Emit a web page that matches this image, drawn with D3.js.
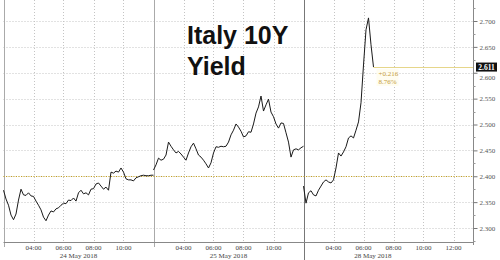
<!DOCTYPE html>
<html>
<head>
<meta charset="utf-8">
<script src="https://cdn.jsdelivr.net/npm/d3@7"></script>
<style>
  body { margin: 0; background: #fff; }
  svg { display: block; }
</style>
</head>
<body>
<svg id="chart" width="500" height="260"></svg>
<script>
// yield readings every 10 minutes from 02:00 of each session
const may24 = [2.373, 2.356, 2.344, 2.325, 2.316, 2.327, 2.354, 2.375, 2.364, 2.363,
  2.368, 2.362, 2.361, 2.352, 2.344, 2.335, 2.321, 2.314, 2.325, 2.333,
  2.331, 2.337, 2.339, 2.344, 2.348, 2.347, 2.354, 2.353, 2.358, 2.352,
  2.368, 2.373, 2.366, 2.368, 2.364, 2.375, 2.376, 2.385, 2.387, 2.381,
  2.375, 2.379, 2.373, 2.408, 2.406, 2.410, 2.408, 2.416, 2.408, 2.395,
  2.393, 2.393, 2.391, 2.397, 2.399, 2.401, 2.402, 2.401, 2.401, 2.402, 2.402];
const may25 = [2.412, 2.422, 2.435, 2.431, 2.433, 2.441, 2.466, 2.458, 2.451, 2.445,
  2.448, 2.443, 2.437, 2.431, 2.445, 2.457, 2.464, 2.453, 2.441, 2.437,
  2.431, 2.424, 2.416, 2.426, 2.445, 2.457, 2.456, 2.458, 2.457, 2.458,
  2.466, 2.480, 2.489, 2.501, 2.495, 2.487, 2.476, 2.478, 2.486, 2.485,
  2.501, 2.522, 2.534, 2.555, 2.526, 2.538, 2.549, 2.524, 2.515, 2.501,
  2.493, 2.503, 2.502, 2.484, 2.466, 2.437, 2.451, 2.453, 2.451, 2.455, 2.458];
const may28 = [2.381, 2.348, 2.368, 2.372, 2.364, 2.362, 2.373, 2.381, 2.389, 2.393,
  2.389, 2.387, 2.393, 2.416, 2.445, 2.439, 2.447, 2.457, 2.474, 2.478,
  2.474, 2.489, 2.505, 2.542, 2.615, 2.683, 2.706, 2.654, 2.611];

const sessionDates = ['24 May 2018', '25 May 2018', '28 May 2018'];
const sessionTicks = [
  ['04:00', '06:00', '08:00', '10:00'],
  ['04:00', '06:00', '08:00', '10:00'],
  ['04:00', '06:00', '08:00', '10:00', '12:00']
];
const yTicks = [2.3, 2.35, 2.4, 2.45, 2.5, 2.55, 2.6, 2.65, 2.7];
const refLevel = 2.400;
const lastValue = 2.611;
const changeText = ['+0.216', '8.76%'];
const titleLines = ['Italy 10Y', 'Yield'];

const svg = d3.select('#chart');
const left = 3.5, right = 473, bottom = 242;
const sessionLen = 10; // hours shown per session (02:00 - 12:00)

// compressed time axis: hours since 24 May 02:00 with gaps removed
const x = d3.scaleLinear().domain([0, 31.3]).range([left, right]);
const y = d3.scaleLinear().domain([2.3, 2.7]).range([228, 21]);

const series = [may24, may25, may28].map((vals, s) =>
  vals.map((v, i) => ({ t: s * sessionLen + i / 6, v })));

const hourOf = (lbl) => +lbl.slice(0, 2) - 2;

// horizontal grid
svg.append('g')
  .selectAll('line')
  .data(yTicks)
  .join('line')
  .attr('x1', left).attr('x2', right)
  .attr('y1', (d) => Math.round(y(d)) + 0.5)
  .attr('y2', (d) => Math.round(y(d)) + 0.5)
  .attr('stroke', '#c4c4c4')
  .attr('stroke-dasharray', '1,2');

// vertical grid at tick hours
const vTicks = sessionTicks.flatMap((ticks, s) =>
  ticks.map((lbl) => ({ t: s * sessionLen + hourOf(lbl), lbl })));
svg.append('g')
  .selectAll('line')
  .data(vTicks)
  .join('line')
  .attr('x1', (d) => Math.round(x(d.t)) + 0.5)
  .attr('x2', (d) => Math.round(x(d.t)) + 0.5)
  .attr('y1', 0).attr('y2', bottom)
  .attr('stroke', '#c4c4c4')
  .attr('stroke-dasharray', '1,2');

// session separators
[0, 1, 2].forEach((s) => {
  const xs = Math.round(x(s * sessionLen)) + 0.5;
  svg.append('line')
    .attr('x1', xs).attr('x2', xs)
    .attr('y1', 0).attr('y2', s === 2 ? 260 : 247)
    .attr('stroke', s === 2 ? '#777' : '#aaa');
});

// reference (previous close) line
svg.append('line')
  .attr('x1', left).attr('x2', right)
  .attr('y1', Math.round(y(refLevel)) + 0.5)
  .attr('y2', Math.round(y(refLevel)) + 0.5)
  .attr('stroke', '#c9a21a')
  .attr('stroke-dasharray', '1,1.5');

// last value line
const lastPt = series[2][series[2].length - 1];
svg.append('line')
  .attr('x1', x(lastPt.t)).attr('x2', right)
  .attr('y1', Math.round(y(lastValue)) + 0.5)
  .attr('y2', Math.round(y(lastValue)) + 0.5)
  .attr('stroke', '#e6d68a');

// price line
const line = d3.line().x((d) => x(d.t)).y((d) => y(d.v));
series.forEach((pts) => {
  svg.append('path')
    .attr('d', line(pts))
    .attr('fill', 'none')
    .attr('stroke', '#1a1a1a')
    .attr('stroke-width', 1);
});

// change annotation
svg.append('rect')
  .attr('x', x(lastPt.t) + 3).attr('y', y(lastValue) + 2)
  .attr('width', 22).attr('height', 17)
  .attr('fill', '#fffdf0');
svg.append('g')
  .selectAll('text')
  .data(changeText)
  .join('text')
  .attr('x', x(lastPt.t) + 5)
  .attr('y', (d, i) => y(lastValue) + 9 + i * 8)
  .attr('font-family', 'Liberation Serif, serif')
  .attr('font-size', 7)
  .attr('fill', '#c49a3a')
  .text((d) => d);

// axes frame
svg.append('line')
  .attr('x1', left).attr('x2', right + 0.5)
  .attr('y1', bottom + 0.5).attr('y2', bottom + 0.5)
  .attr('stroke', '#888');
svg.append('line')
  .attr('x1', right + 0.5).attr('x2', right + 0.5)
  .attr('y1', 0).attr('y2', bottom + 3)
  .attr('stroke', '#888');

// right axis
const yAxis = d3.axisRight(y)
  .tickValues(yTicks)
  .tickSize(4)
  .tickPadding(2)
  .tickFormat(d3.format('.3f'));
const gy = svg.append('g')
  .attr('transform', `translate(${right + 0.5},0)`)
  .call(yAxis);
gy.select('.domain').remove();
gy.selectAll('line').attr('stroke', '#777');
gy.selectAll('text')
  .attr('font-family', 'Liberation Serif, serif')
  .attr('font-size', 7)
  .attr('fill', '#555');
// the label under the last-value tag sits a little lower so both stay readable
gy.selectAll('.tick')
  .filter((d) => Math.abs(y(d) - y(lastValue)) < 8)
  .select('text')
  .attr('dy', '0.95em');

const minor = d3.range(2.275, 2.74, 0.05);
svg.append('g')
  .selectAll('line')
  .data(minor)
  .join('line')
  .attr('x1', right).attr('x2', right + 2.5)
  .attr('y1', (d) => Math.round(y(d)) + 0.5)
  .attr('y2', (d) => Math.round(y(d)) + 0.5)
  .attr('stroke', '#999');

// last value tag
const tagY = y(lastValue);
svg.append('rect')
  .attr('x', right + 3).attr('y', tagY - 4.5)
  .attr('width', 21).attr('height', 9)
  .attr('fill', '#111');
svg.append('text')
  .attr('x', right + 13.5).attr('y', tagY + 2.5)
  .attr('text-anchor', 'middle')
  .attr('font-family', 'Liberation Serif, serif')
  .attr('font-size', 7.5)
  .attr('font-weight', 'bold')
  .attr('fill', '#fff')
  .text(d3.format('.3f')(lastValue));

// bottom tick labels
svg.append('g')
  .selectAll('text')
  .data(vTicks)
  .join('text')
  .attr('x', (d) => x(d.t))
  .attr('y', 250)
  .attr('text-anchor', 'middle')
  .attr('font-family', 'Liberation Serif, serif')
  .attr('font-size', 7)
  .attr('fill', '#444')
  .text((d) => d.lbl);

const dateCenters = [5, 5, 4.63];
svg.append('g')
  .selectAll('text')
  .data(sessionDates)
  .join('text')
  .attr('x', (d, s) => x(s * sessionLen + dateCenters[s]))
  .attr('y', 258)
  .attr('text-anchor', 'middle')
  .attr('font-family', 'Liberation Serif, serif')
  .attr('font-size', 7)
  .attr('fill', '#444')
  .text((d) => d);

// title
svg.append('g')
  .selectAll('text')
  .data(titleLines)
  .join('text')
  .attr('x', 187)
  .attr('y', (d, i) => 44 + i * 31)
  .attr('font-family', 'Liberation Sans, Arial, sans-serif')
  .attr('font-weight', 'bold')
  .attr('font-size', 25)
  .attr('fill', '#111')
  .text((d) => d);
</script>
</body>
</html>
